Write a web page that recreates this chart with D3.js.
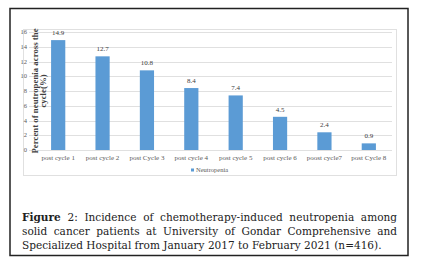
<!DOCTYPE html>
<html>
<head>
<script src="https://d3js.org/d3.v7.min.js"></script>
<style>
  body { margin: 0; background: #fff; }
</style>
</head>
<body>
<script>
const width = 429
const height = 265

const categories = ["post cycle 1", "post cycle 2", "post Cycle 3", "post cycle 4", "post cycle 5", "post cycle 6", "poost cycle7", "post Cycle 8"]
const values = [14.9, 12.7, 10.8, 8.4, 7.4, 4.5, 2.4, 0.9]
const yTicks = [0, 2, 4, 6, 8, 10, 12, 14, 16]
const seriesName = "Neutropenia"
const captionLines = [
  "Incidence of chemotherapy-induced neutropenia among",
  "solid cancer patients at University of Gondar Comprehensive and",
  "Specialized Hospital from January 2017 to February 2021 (n=416)."
]

const barColor = "#5b9bd5"
const gridColor = "#e0e0e0"
const serif = "'Liberation Serif', serif"
const capFont = "'DejaVu Serif', serif"

const svg = d3.select("body").append("svg").attr("width", width).attr("height", height)

// outer frame
svg.append("rect").attr("x", 10).attr("y", 8.5).attr("width", 398).attr("height", 247)
  .attr("fill", "none").attr("stroke", "#222").attr("stroke-width", 1.5)

// chart area frame
svg.append("rect").attr("x", 23.5).attr("y", 29.5).attr("width", 373).attr("height", 146)
  .attr("fill", "none").attr("stroke", gridColor).attr("stroke-width", 1)

const x = d3.scaleBand().domain(categories).range([36, 391]).paddingInner(0.68).paddingOuter(0.34)
const y = d3.scaleLinear().domain([0, 16]).range([150, 32])

// gridlines
svg.append("g").selectAll("line").data(yTicks).join("line")
  .attr("x1", 29).attr("x2", 392)
  .attr("y1", d => Math.round(y(d)) + 0.5).attr("y2", d => Math.round(y(d)) + 0.5)
  .attr("stroke", gridColor).attr("stroke-width", 1)

// y tick labels
svg.append("g").selectAll("text").data(yTicks).join("text")
  .attr("x", 27).attr("y", d => y(d) + 2)
  .attr("text-anchor", "end")
  .style("font-family", serif).style("font-size", "6.5px").style("fill", "#595959")
  .text(d => d)

// axis title
const yTitle = svg.append("text")
  .attr("transform", `translate(37.5, ${y(8)}) rotate(-90)`)
  .attr("text-anchor", "middle")
  .style("font-family", serif).style("font-size", "8.8px").style("font-weight", "bold").style("fill", "#404040")
yTitle.append("tspan").attr("x", 0).attr("dy", 0).text("Percent of neutropenia across the")
yTitle.append("tspan").attr("x", 0).attr("dy", 8.5).text("cycle(%)")

// bars
svg.append("g").selectAll("rect").data(values).join("rect")
  .attr("x", (d, i) => x(categories[i]))
  .attr("y", d => y(d))
  .attr("width", x.bandwidth())
  .attr("height", d => y(0) - y(d))
  .attr("fill", barColor)

// value labels
svg.append("g").selectAll("text").data(values).join("text")
  .attr("x", (d, i) => x(categories[i]) + x.bandwidth() / 2)
  .attr("y", d => y(d) - 5)
  .attr("text-anchor", "middle")
  .style("font-family", serif).style("font-size", "7px").style("fill", "#404040")
  .text(d => d.toFixed(1))

// x category labels
svg.append("g").selectAll("text").data(categories).join("text")
  .attr("x", d => x(d) + x.bandwidth() / 2)
  .attr("y", 160)
  .attr("text-anchor", "middle")
  .style("font-family", serif).style("font-size", "7px").style("fill", "#595959")
  .text(d => d)

// legend
svg.append("rect").attr("x", 191).attr("y", 168.5).attr("width", 3).attr("height", 3).attr("fill", barColor)
svg.append("text").attr("x", 196).attr("y", 172)
  .style("font-family", serif).style("font-size", "6.5px").style("fill", "#595959")
  .text(seriesName)

// caption, justified by word spacing
const capX = 22, capRight = 397
const capYs = [221, 235, 249]
let capSize = 11
// size the font so the last line ends where the reference's does
const probe = svg.append("text").style("font-family", capFont).style("font-size", capSize + "px").text(captionLines[2])
capSize = capSize * (382 - capX) / probe.node().getComputedTextLength()
probe.remove()

captionLines.forEach((line, i) => {
  const t = svg.append("text").attr("x", capX).attr("y", capYs[i])
    .style("font-family", capFont).style("font-size", capSize + "px").style("fill", "#222")
  if (i === 0) {
    t.append("tspan").style("font-weight", "bold").text("Figure")
    t.append("tspan").text(" 2: " + line)
  } else {
    t.text(line)
  }
  if (i < 2) {
    const full = (i === 0 ? "Figure 2: " : "") + line
    const spaces = full.split(" ").length - 1
    const extra = (capRight - capX - t.node().getComputedTextLength()) / spaces
    t.style("word-spacing", extra + "px")
  }
})
</script>
</body>
</html>
